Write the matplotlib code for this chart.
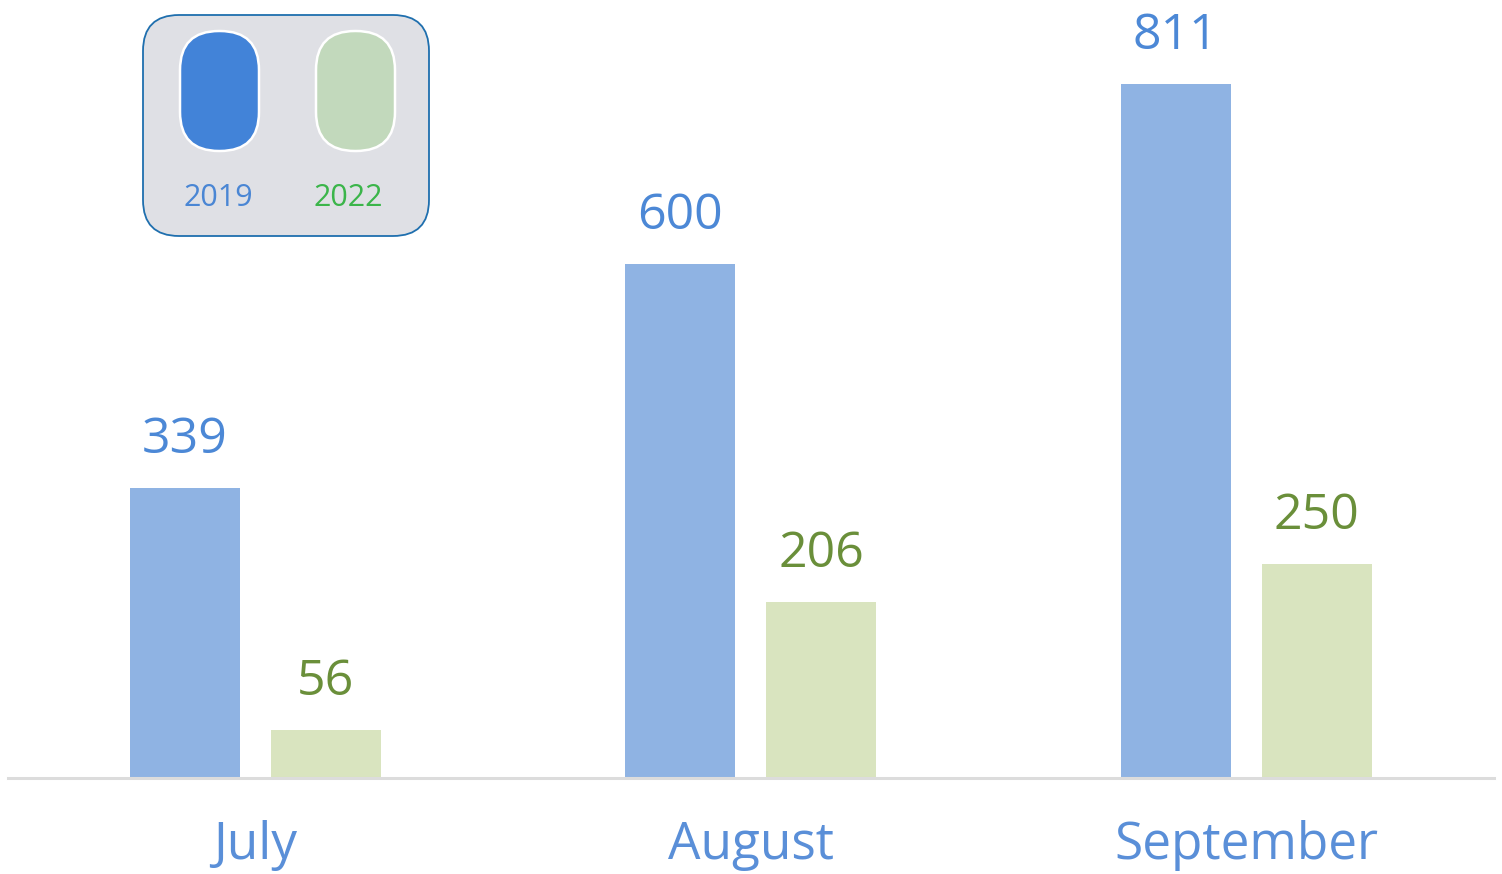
import matplotlib

matplotlib.use("Agg")
import matplotlib.pyplot as plt
from matplotlib.patches import FancyBboxPatch

months = ["July", "August", "September"]
series_names = ["2019", "2022"]
values_2019 = [339, 600, 811]
values_2022 = [56, 206, 250]

bar_colors = ["#8fb3e3", "#d9e4bf"]
value_colors = ["#4c88d6", "#6a8f3a"]
pill_colors = ["#4283d8", "#c2d9bc"]
legend_text_colors = ["#4a86d4", "#3bb54a"]
month_color = "#5a8fd8"

plt.rcParams["font.family"] = ["Open Sans", "DejaVu Sans"]

W, H = 1502, 874
fig = plt.figure(figsize=(W / 100, H / 100), dpi=100)
ax = fig.add_axes([0, 0, 1, 1])

# map data to pixels: group spacing 495.5 px, 0.856 px per unit, baseline 96 px from bottom
spacing = 495.5
ppu = 0.856
ax.set_xlim(-255 / spacing, (W - 255) / spacing)
ax.set_ylim(-96 / ppu, (H - 96) / ppu)
ax.axis("off")

width = 110 / spacing
offset = 70.5 / spacing
xs = list(range(len(months)))

for i, vals in enumerate([values_2019, values_2022]):
    sign = -1 if i == 0 else 1
    pos = [x + sign * offset for x in xs]
    ax.bar(pos, vals, width=width, color=bar_colors[i], zorder=2)
    for p, v in zip(pos, vals):
        ax.text(p, v + 35 / ppu, str(v), ha="center", va="baseline",
                fontsize=36, color=value_colors[i])

ax.axhline(0, xmin=8 / W, xmax=1494 / W, color="#dcdcdc", lw=2.2, zorder=3)

for x, m in zip(xs, months):
    ax.text(x, -81 / ppu, m, ha="center", va="baseline", fontsize=37, color=month_color)

# legend drawn in pixel coordinates
lg = fig.add_axes([0, 0, 1, 1])
lg.set_xlim(0, W)
lg.set_ylim(H, 0)
lg.axis("off")
lg.add_patch(FancyBboxPatch((143, 15), 286, 221,
                            boxstyle="round,pad=0,rounding_size=36",
                            facecolor="#dfe0e5", edgecolor="#1f6fae", lw=1.3))
pill_x = [180, 316]
label_x = [218, 348]
for i in range(2):
    lg.add_patch(FancyBboxPatch((pill_x[i], 31), 79, 120,
                                boxstyle="round,pad=0,rounding_size=39",
                                facecolor=pill_colors[i], edgecolor="white", lw=1.8))
    lg.text(label_x[i], 206, series_names[i], ha="center", va="baseline",
            fontsize=22, color=legend_text_colors[i])

fig.savefig("out.png", dpi=100)
